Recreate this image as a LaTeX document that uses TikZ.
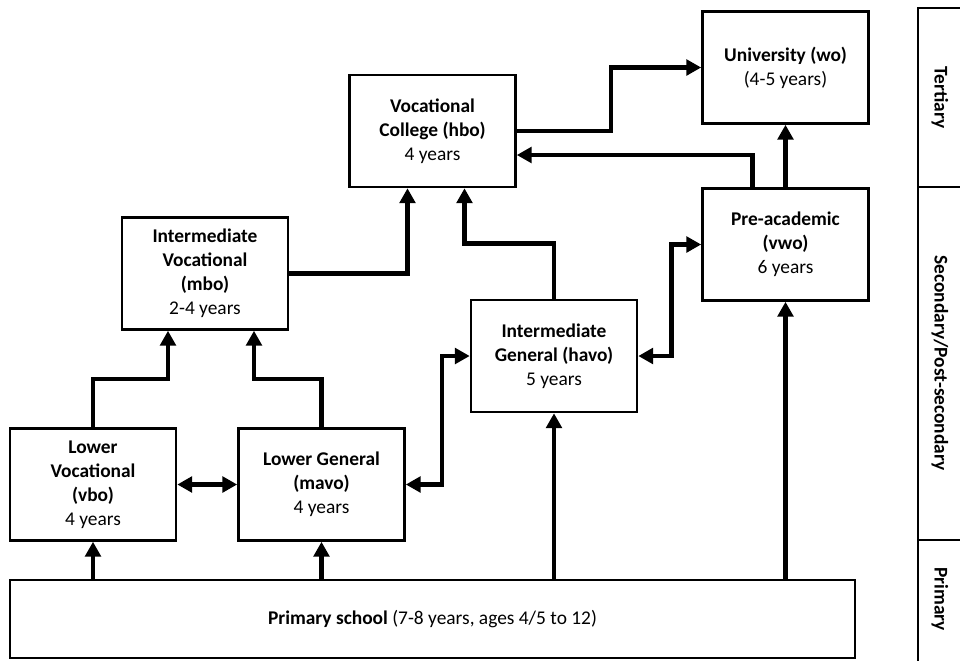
\documentclass[tikz,border=0pt]{standalone}
\usepackage{fontspec}
\setmainfont{Carlito}
\usetikzlibrary{arrows.meta,calc}

\begin{document}
\begin{tikzpicture}[x=0.025cm,y=-0.025cm,
    box/.style={draw,line width=1.8pt,align=center,minimum width=4.15cm,minimum height=2.8cm,inner sep=2pt,font=\fontsize{13.8}{17}\selectfont},
    link/.style={line width=3.2pt,-{Triangle[length=10.5pt,width=11pt]}},
    twoway/.style={line width=3.2pt,{Triangle[length=10.5pt,width=11pt]}-{Triangle[length=10.5pt,width=11pt]}},
    level/.style={rotate=-90,font=\fontsize{13.8}{17}\selectfont\bfseries}]
	\useasboundingbox (0,0) rectangle (960,660);
	% Schools
	\node[box] (univ) at (785.5,67.5) {\textbf{University (wo)}\\(4-5 years)};
	\node[box] (vc) at (432.5,131) {\textbf{Vocational}\\\textbf{College (hbo)}\\4 years};
	\node[box] (pre) at (785.5,244.5) {\textbf{Pre-academic}\\\textbf{(vwo)}\\6 years};
	\node[box] (iv) at (205,273.5) {\textbf{Intermediate}\\\textbf{Vocational}\\\textbf{(mbo)}\\2-4 years};
	\node[box] (ig) at (554,356) {\textbf{Intermediate}\\\textbf{General (havo)}\\5 years};
	\node[box] (lv) at (93,484.5) {\textbf{Lower}\\\textbf{Vocational}\\\textbf{(vbo)}\\4 years};
	\node[box] (lg) at (321.5,484.5) {\textbf{Lower General}\\\textbf{(mavo)}\\4 years};
	\node[box,minimum width=21.125cm,minimum height=1.95cm] (prim) at (432.5,619) {\textbf{Primary school} (7-8 years, ages 4/5 to 12)};
	% Levels
	\draw[line width=1.8pt] (918,8) rectangle (968,668);
	\draw[line width=1.8pt] (918,187) -- (968,187) (918,540) -- (968,540);
	\node[level] (tert) at (940,97.5) {Tertiary};
	\node[level] (sec) at (940,363) {Secondary/Post-secondary};
	\node[level] (prima) at (940,599) {Primary};
	% Routes
	\draw[link] (vc.east) -- ++(94,0) |- (univ.west);
	\draw[link] ($(pre.north)+(-33,0)$) |- ($(vc.east)+(0,24)$);
	\draw[link] (pre.north) -- (univ.south);
	\draw[link] (ig.north) -- ++(0,-55) -| ($(vc.south)+(32,0)$);
	\draw[link] (iv.east) -| ($(vc.south)+(-25,0)$);
	\draw[twoway] (ig.east) -- ++(33,0) |- (pre.west);
	\draw[twoway] (lg.east) -- ++(36,0) |- (ig.west);
	\draw[twoway] (lv.east) -- (lg.west);
	\draw[link] (lv.north) -- ++(0,-48) -| ($(iv.south)+(-37,0)$);
	\draw[link] (lg.north) -- ++(0,-48) -| ($(iv.south)+(49,0)$);
	\foreach \n in {lv,lg,ig,pre}
	\draw[link] (\n.south |- prim.north) -- (\n.south);
\end{tikzpicture}
\end{document}
